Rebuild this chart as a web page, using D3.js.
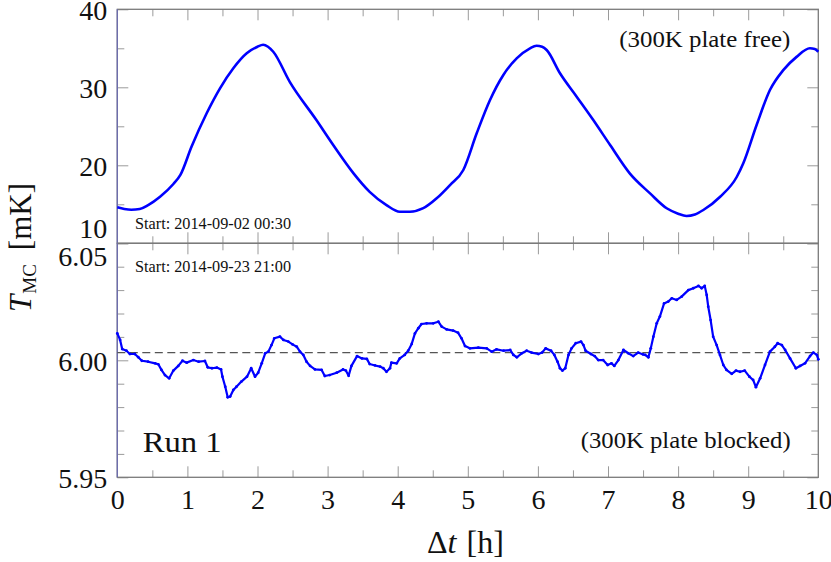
<!DOCTYPE html>
<html><head><meta charset="utf-8">
<script src="https://cdn.jsdelivr.net/npm/d3@7"></script>
<style>body{margin:0;background:#fff}svg{display:block}</style>
</head><body><svg id="c" width="831" height="562"></svg>
<script>
// ---- data ----
const tTop = [0,0.1,0.2,0.32,0.44,0.61,0.8,0.9,1.06,1.275,1.465,1.655,1.846,2.0,2.08,2.15,2.225,2.46,2.84,3.08,3.37,3.6,3.84,4.03,4.175,4.365,4.556,4.746,4.936,5.127,5.317,5.507,5.697,5.887,5.98,6.06,6.125,6.315,6.553,6.79,7.03,7.31,7.6,7.837,8.0,8.12,8.24,8.36,8.6,8.836,8.93,9.12,9.31,9.5,9.69,9.88,9.95,10];
const tempTop = [14.62,14.4,14.3,14.4,14.9,15.97,17.6,18.76,22.4,26.67,29.87,32.44,34.36,35.2,35.45,35.2,34.56,30.7,25.8,22.6,18.97,16.6,14.9,14.05,14.05,14.5,15.77,17.47,19.4,24.1,28.37,31.58,33.7,35.0,35.33,35.2,34.78,31.8,28.8,25.8,22.6,18.97,16.4,14.49,13.8,13.5,13.7,14.27,15.97,18.5,20.26,25.17,29.65,32.2,33.9,35.0,34.9,34.56];

const tBottom = [0,0.04,0.07,0.13,0.18,0.25,0.3,0.35,0.44,0.54,0.585,0.63,0.68,0.74,0.8,0.87,0.93,0.99,1.085,1.16,1.25,1.29,1.35,1.42,1.48,1.5,1.54,1.575,1.61,1.655,1.7,1.77,1.85,1.91,1.965,2.01,2.06,2.11,2.155,2.2,2.24,2.32,2.37,2.44,2.5,2.56,2.606,2.654,2.7,2.75,2.82,2.915,2.96,3.03,3.13,3.22,3.26,3.3,3.34,3.42,3.49,3.56,3.6,3.677,3.75,3.795,3.84,3.89,3.91,3.985,4.03,4.1,4.15,4.2,4.246,4.294,4.34,4.413,4.508,4.58,4.627,4.698,4.79,4.86,4.91,4.96,5.03,5.15,5.27,5.34,5.41,5.51,5.605,5.65,5.7,5.77,5.84,5.91,6.006,6.06,6.11,6.187,6.235,6.28,6.315,6.35,6.39,6.436,6.48,6.54,6.615,6.65,6.68,6.757,6.81,6.86,6.93,6.995,7.05,7.09,7.148,7.22,7.29,7.36,7.43,7.5,7.53,7.576,7.61,7.647,7.695,7.74,7.8,7.86,7.91,7.98,8.05,8.146,8.217,8.29,8.336,8.38,8.408,8.43,8.464,8.5,8.55,8.597,8.645,8.69,8.765,8.826,8.883,8.95,9.017,9.07,9.11,9.17,9.24,9.31,9.38,9.42,9.48,9.527,9.597,9.68,9.74,9.81,9.882,9.93,9.98,10];
const tempBottom = [6.0115,6.0087,6.0048,6.0041,6.0027,6.0027,6.0013,5.9998,5.9994,5.9987,5.9983,5.9959,5.9937,5.9923,5.9956,5.9976,5.9998,5.999,6.0001,5.9994,5.9997,5.997,5.9966,5.9969,5.9961,5.993,5.9887,5.9842,5.9845,5.9873,5.9887,5.9909,5.993,5.9966,5.993,5.9947,5.9987,6.003,6.0037,6.0065,6.0094,6.0101,6.0087,6.008,6.0068,6.0058,6.0037,6.0023,5.9994,5.9976,5.9961,5.9959,5.9933,5.9937,5.9947,5.9961,5.9956,5.9934,5.9976,6.0018,6.0008,6.0006,5.9984,5.9978,5.9973,5.9966,5.9951,5.9966,5.999,5.9987,6.0008,6.0023,6.0041,6.007,6.0115,6.0137,6.0155,6.0158,6.0158,6.0165,6.0144,6.0132,6.0127,6.0118,6.0094,6.0061,6.0051,6.0054,6.0051,6.0037,6.0047,6.0041,6.0044,6.0023,6.0013,6.003,6.0041,6.0033,6.0027,6.0033,6.0051,6.0041,6.0023,5.9994,5.9966,5.9956,5.9966,6.0023,6.0051,6.0073,6.008,6.0065,6.0041,6.0027,6.0018,6.0001,6.0001,5.998,5.9987,5.9976,6.0001,6.0044,6.003,6.0018,6.0033,6.0025,6.0023,6.0013,6.0051,6.0101,6.0158,6.0187,6.0243,6.0251,6.0265,6.0258,6.0272,6.03,6.0308,6.0318,6.0308,6.0318,6.0279,6.0229,6.0172,6.0101,6.0065,6.0023,5.998,5.9959,5.9942,5.9956,5.9951,5.9956,5.993,5.9916,5.9885,5.9923,5.998,6.0037,6.0058,6.0073,6.0065,6.0044,6.0008,5.9966,5.9976,5.9987,6.0018,6.0033,6.0023,6.0004];

const refLevel = 6.0033;

const xTicks = [0,1,2,3,4,5,6,7,8,9,10];
const xMinorTicks = [0.5,1.5,2.5,3.5,4.5,5.5,6.5,7.5,8.5,9.5];
const topTicks = [10,20,30,40];
const topMinorTicks = [15,25,35];
const bottomTicks = [5.95,6.00,6.05];
const bottomMinorTicks = [5.96,5.97,5.98,5.99,6.01,6.02,6.03,6.04];

const topNote = "Start: 2014-09-02 00:30";
const bottomNote = "Start: 2014-09-23 21:00";
const topTag = "(300K plate free)";
const bottomTag = "(300K plate blocked)";
const runLabel = "Run 1";

// ---- layout ----
const L = 117.3, R = 818.3, T0 = 9.3, MID = 243.3, B = 477.3;
const FONT = "'Liberation Serif', 'Times New Roman', serif";
const svg = d3.select("#c");

const x = d3.scaleLinear().domain([0,10]).range([L,R]);
const yTop = d3.scaleLinear().domain([10,40]).range([MID,T0]);
const yBot = d3.scaleLinear().domain([5.95,6.05]).range([B,MID]);

function styleAxis(g){
  g.select(".domain").remove();
  g.selectAll(".tick line").attr("stroke","#9a9a9a").attr("stroke-width",1);
  g.selectAll("text").attr("font-family",FONT).attr("font-size",28).attr("fill","#111");
}

function panel(y, top, bottom, major, minor, fmt){
  [[d3.axisLeft,L],[d3.axisRight,R]].forEach(([ax,pos])=>{
    svg.append("g").attr("transform",`translate(${pos},0)`)
      .call(ax(y).tickValues(minor).tickSize(-7).tickFormat(""))
      .call(styleAxis);
  });
  svg.append("g").attr("transform",`translate(${R},0)`)
    .call(d3.axisRight(y).tickValues(major).tickSize(-11).tickFormat(""))
    .call(styleAxis);
  const lab = svg.append("g").attr("transform",`translate(${L},0)`)
    .call(d3.axisLeft(y).tickValues(major).tickSize(-11).tickPadding(10).tickFormat(fmt))
    .call(styleAxis);
  svg.append("g").attr("transform",`translate(0,${top})`)
    .call(d3.axisTop(x).tickValues(xMinorTicks).tickSize(-7).tickFormat("")).call(styleAxis);
  svg.append("g").attr("transform",`translate(0,${top})`)
    .call(d3.axisTop(x).tickValues(xTicks.slice(1,-1)).tickSize(-11).tickFormat("")).call(styleAxis);
  svg.append("g").attr("transform",`translate(0,${bottom})`)
    .call(d3.axisBottom(x).tickValues(xMinorTicks).tickSize(-7).tickFormat("")).call(styleAxis);
  svg.append("g").attr("transform",`translate(0,${bottom})`)
    .call(d3.axisBottom(x).tickValues(xTicks.slice(1,-1)).tickSize(-11).tickFormat("")).call(styleAxis);
  return lab;
}

const labTop = panel(yTop, T0, MID, topTicks, topMinorTicks, d3.format("d"));
labTop.selectAll("text").attr("dy","0.36em").filter(d=>d===10).attr("dy","-0.2em");
const labBot = panel(yBot, MID, B, bottomTicks, bottomMinorTicks, d3.format(".2f"));
labBot.selectAll("text").attr("dy","0.36em").filter(d=>Math.abs(d-6.05)<1e-9).attr("dy","0.8em");

// x tick labels
svg.append("g").attr("transform",`translate(0,${B})`)
  .call(d3.axisBottom(x).tickValues(xTicks).tickSize(0).tickPadding(12).tickFormat(d3.format("d")))
  .call(styleAxis);

// frames
[[T0,MID],[MID,B]].forEach(([a,b])=>{
  svg.append("rect").attr("x",L).attr("y",a).attr("width",R-L).attr("height",b-a)
    .attr("fill","none").attr("stroke","#7a7a7a").attr("stroke-width",1.3);
  svg.append("line").attr("x1",L).attr("x2",L).attr("y1",a).attr("y2",b)
    .attr("stroke","#6c6cae").attr("stroke-width",1.3);
});

// reference dashed line
svg.append("line").attr("x1",x(0)).attr("x2",x(10)).attr("y1",yBot(refLevel)).attr("y2",yBot(refLevel))
  .attr("stroke","#555").attr("stroke-width",1.3).attr("stroke-dasharray","8,4.5");

// series
const topData = tTop.map((t,i)=>[t,tempTop[i]]);
const botData = tBottom.map((t,i)=>[t,tempBottom[i]]);
svg.append("path").datum(topData)
  .attr("d", d3.line().x(d=>x(d[0])).y(d=>yTop(d[1])).curve(d3.curveMonotoneX))
  .attr("fill","none").attr("stroke","#0000ff").attr("stroke-width",2.6).attr("stroke-linejoin","round");
svg.append("path").datum(botData)
  .attr("d", d3.line().x(d=>x(d[0])).y(d=>yBot(d[1])))
  .attr("fill","none").attr("stroke","#0000ff").attr("stroke-width",2.2)
  .attr("stroke-linejoin","round").attr("stroke-linecap","round");
svg.append("g").selectAll("circle").data(botData).join("circle")
  .attr("cx",d=>x(d[0])).attr("cy",d=>yBot(d[1])).attr("r",1.4).attr("fill","#0000ff");

// annotations
function txt(s,xx,yy,size,len){
  const t = svg.append("text").attr("x",xx).attr("y",yy).attr("font-family",FONT)
    .attr("font-size",size).attr("fill","#111").text(s);
  if(len) t.attr("textLength",len).attr("lengthAdjust","spacingAndGlyphs");
  return t;
}
txt(topNote,135,229.3,16,156);
txt(bottomNote,135,271.7,16,156);
txt(topTag,619.3,47,24,171);
txt(bottomTag,580.7,447.5,24,210);
txt(runLabel,142.7,451.7,29,79);

// axis titles
const xt = svg.append("text").attr("x",427).attr("y",553).attr("font-family",FONT)
  .attr("font-size",32).attr("fill","#111");
xt.append("tspan").text("Δ");
xt.append("tspan").attr("font-style","italic").text("t");
xt.append("tspan").attr("dx",10).text("[h]");

const yt = svg.append("text").attr("transform","translate(31,312) rotate(-90)")
  .attr("font-family",FONT).attr("font-size",31).attr("fill","#111");
yt.append("tspan").attr("font-style","italic").text("T");
yt.append("tspan").attr("font-size",19).attr("dy",5).attr("dx",1).text("MC");
yt.append("tspan").attr("dy",-5).attr("dx",14).text("[mK]");
</script></body></html>
